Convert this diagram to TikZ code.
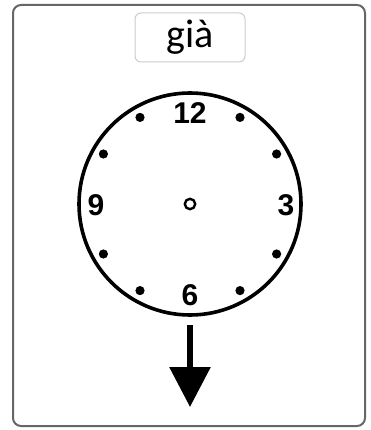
\documentclass[tikz,border=0pt]{standalone}
\usepackage{fontspec}
\setmainfont{Liberation Sans}
\newfontfamily\labelfont{Carlito}
\usetikzlibrary{arrows.meta,positioning,calc}

\begin{document}
\begin{tikzpicture}[
  x=1pt, y=-1pt,
  >={Triangle[width=40pt,length=40pt]},
  frame/.style={draw=black!60, line width=2pt, rounded corners=8pt},
  lbl/.style={draw=black!20, line width=1pt, rounded corners=6pt, fill=white,
    minimum width=110pt, minimum height=49pt, inner sep=0pt,
    font=\labelfont\fontsize{40}{42}\selectfont},
  num/.style={font=\bfseries\fontsize{30}{31}\selectfont, inner sep=0pt},
  tick/.style={fill=black}]

\useasboundingbox (0,0) rectangle (371,430);

% ===== frame + word =====
\draw[frame] (13,5) rectangle (365,426);
\node[lbl] (word) at (190,37.5) {già};

% ===== clock face =====
\coordinate (ctr) at (190,204);
\draw[line width=3.6pt] (ctr) circle (111);
\draw[line width=2.4pt] (ctr) circle (5.2);
\foreach \a in {30,60,120,150,210,240,300,330}
  \fill[tick] ($(ctr)+(\a:100)$) circle (4.6);

\node[num] (n12) at (190,113) {12};
\node[num] (n3)  at (286,205) {3};
\node[num] (n9)  at (96,205)  {9};
\node[num] (n6)  at (190,295) {6};

% ===== arrow =====
\coordinate (arrtop) at (190,325);
\coordinate (arrtip) at (190,407);
\draw[->, line width=6pt] (arrtop) -- (arrtip);

\end{tikzpicture}
\end{document}
